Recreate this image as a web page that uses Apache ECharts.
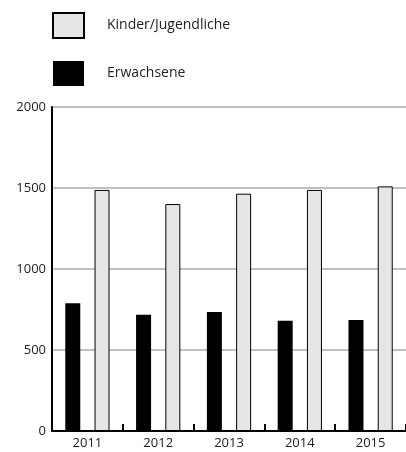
<!DOCTYPE html>
<html><head><meta charset="utf-8">
<script src="https://cdn.jsdelivr.net/npm/echarts@6/dist/echarts.min.js"></script>
<style>html,body{margin:0;padding:0;background:#fff}#c{width:406px;height:452px}</style>
</head><body><div id="c"></div>
<script>
const categories = ['2011','2012','2013','2014','2015'];
const erwachsene = [788, 718, 735, 681, 685];
const kinder = [1488, 1401, 1465, 1488, 1510];
const yTicks = [0, 500, 1000, 1500, 2000];

const FONT = '"Open Sans", sans-serif';
const chart = echarts.init(document.getElementById('c'), null, {renderer:'canvas'});
chart.setOption({
  animation: false,
  backgroundColor: '#fff',
  legend: {
    orient: 'vertical', left: 52, top: 12, padding: 0,
    itemWidth: 31, itemHeight: 25, itemGap: 22,
    icon: 'rect',
    data: ['Kinder/Jugendliche', 'Erwachsene'],
    textStyle: { fontFamily: FONT, fontSize: 14, color: '#222', padding: [0,0,0,18] }
  },
  grid: { left: 52, right: -6, top: 107, bottom: 21, containLabel: false },
  xAxis: {
    type: 'category', data: categories,
    axisLine: { lineStyle: { color: '#000', width: 2 } },
    axisTick: { show: true, inside: true, length: 7, lineStyle: { color: '#000', width: 2 } },
    axisLabel: { fontFamily: FONT, fontSize: 13, color: '#222', margin: 6 }
  },
  yAxis: {
    type: 'value', min: yTicks[0], max: yTicks[yTicks.length-1], interval: 500,
    axisLine: { show: true, lineStyle: { color: '#000', width: 2 } },
    axisTick: { show: false },
    splitLine: { lineStyle: { color: '#c0c0c0', width: 2 } },
    axisLabel: { fontFamily: FONT, fontSize: 13, color: '#222', margin: 6,
                 formatter: v => String(v) }
  },
  series: [
    { name: 'Erwachsene', type: 'bar', data: erwachsene, barWidth: 15, barGap: '95%',
      itemStyle: { color: '#000' } },
    { name: 'Kinder/Jugendliche', type: 'bar', data: kinder, barWidth: 15,
      itemStyle: { color: '#e6e6e6', borderColor: '#000', borderWidth: 1 } }
  ]
});
</script></body></html>
